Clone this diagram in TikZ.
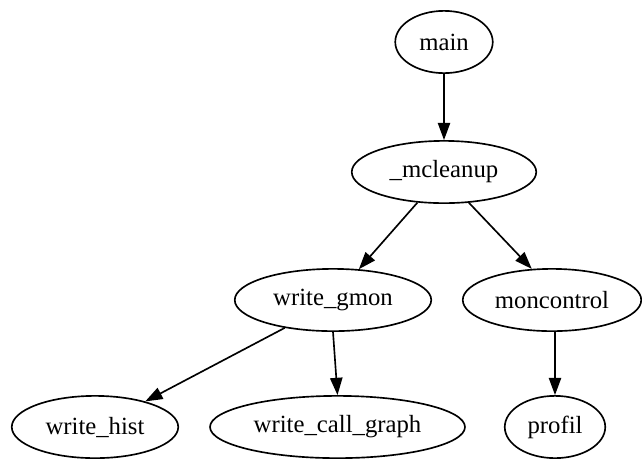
\documentclass[tikz,border=0pt]{standalone}
\usepackage{fontspec}
\setmainfont{Liberation Serif}
\usetikzlibrary{shapes.geometric,arrows.meta}
\begin{document}
\begin{tikzpicture}[x=0.6667pt,y=-0.6667pt,
  fn/.style={draw,ellipse,line width=1.1pt,inner sep=0pt,minimum height=41.5pt,font=\fontsize{16.5pt}{19pt}\selectfont},
  call/.style={draw,line width=1.1pt,-{Triangle[length=11.5pt,width=8.2pt]}}]
\useasboundingbox (0,0) rectangle (642,462);
% call graph nodes
\node[fn,minimum width=65pt]   (main)  at (444,42)  {main};
\node[fn,minimum width=123pt]  (mcl)   at (444,172) {\_mcleanup};
\node[fn,minimum width=131pt]  (wg)    at (333,300) {write\_gmon};
\node[fn,minimum width=119pt]  (mc)    at (552,300) {moncontrol};
\node[fn,minimum width=111pt]  (wh)    at (95,427)  {write\_hist};
\node[fn,minimum width=170pt]  (wcg)   at (337.5,427) {write\_call\_graph};
\node[fn,minimum width=67pt]   (prof)  at (555,427) {profil};
% calls
\draw[call] (main) -- (mcl);
\draw[call] (mcl.229) -- (wg.50);
\draw[call] (mcl.309) -- (mc.123);
\draw[call] (wg.210) -- (wh.27);
\draw[call] (wg.south) -- (wcg.north);
\draw[call] (prof.north |- mc.south) -- (prof.north);
\end{tikzpicture}
\end{document}
